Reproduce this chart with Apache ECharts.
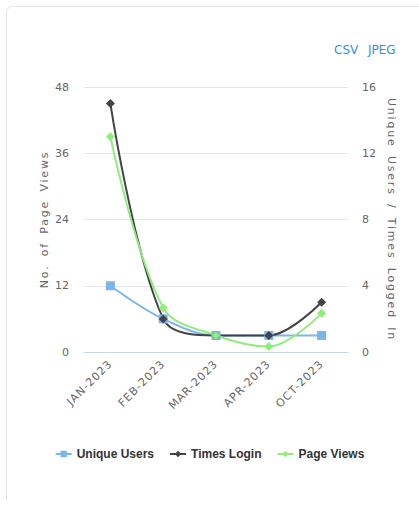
<!DOCTYPE html>
<html>
<head>
<meta charset="utf-8">
<script src="https://cdn.jsdelivr.net/npm/echarts@6/dist/echarts.min.js"></script>
<style>
html,body{margin:0;padding:0;background:#fff;}
#frame{position:absolute;left:6px;top:6px;width:420px;height:494px;border-top:1px solid #e3e3e3;border-left:1px solid #e3e3e3;border-top-left-radius:6px;box-sizing:border-box;}
#chart{position:absolute;left:0;top:0;width:419px;height:506px;}
</style>
</head>
<body>
<div id="frame"></div>
<div id="chart"></div>
<script>
var categories = ['JAN-2023', 'FEB-2023', 'MAR-2023', 'APR-2023', 'OCT-2023'];
var uniqueUsers = [4, 2, 1, 1, 1];
var timesLogin = [15, 2, 1, 1, 3];
var pageViews = [39, 8, 3, 1, 7];
var leftTicks = {min: 0, max: 48, interval: 12};
var rightTicks = {min: 0, max: 16, interval: 4};

var chart = echarts.init(document.getElementById('chart'), null, {renderer: 'svg'});
var fontFam = '"DejaVu Sans", Verdana, sans-serif';
var option = {
  animation: false,
  backgroundColor: 'transparent',
  grid: {left: 84, right: 71, top: 87, bottom: 154},
  graphic: [
    {type: 'text', left: 334, top: 44, style: {text: 'CSV', fill: '#3a8ee6', font: '12px ' + fontFam}},
    {type: 'text', left: 368, top: 44, style: {text: 'JPEG', fill: '#3a8ee6', font: '12px ' + fontFam}}
  ],
  legend: {
    bottom: 41,
    left: 'center',
    itemWidth: 16,
    itemHeight: 8,
    itemGap: 15,
    textStyle: {color: '#333', fontSize: 12, fontWeight: 'bold', fontFamily: '"Liberation Sans", Arial, sans-serif'},
    data: ['Unique Users', 'Times Login', 'Page Views']
  },
  xAxis: {
    type: 'category',
    data: categories,
    boundaryGap: true,
    axisLine: {lineStyle: {color: '#ccd6eb'}},
    axisTick: {show: false},
    axisLabel: {rotate: 45, color: '#666', fontSize: 11, fontFamily: fontFam, margin: 10, interval: 0}
  },
  yAxis: [
    {
      type: 'value', min: leftTicks.min, max: leftTicks.max, interval: leftTicks.interval,
      name: 'No. of Page Views', nameLocation: 'middle', nameGap: 34, nameRotate: 90,
      nameMoveOverlap: false,
      nameTextStyle: {color: '#666', fontSize: 11, fontFamily: fontFam},
      axisLabel: {color: '#666', fontSize: 11, fontFamily: fontFam, margin: 15},
      splitLine: {lineStyle: {color: '#e6e6e6'}},
      axisLine: {show: false}, axisTick: {show: false}
    },
    {
      type: 'value', min: rightTicks.min, max: rightTicks.max, interval: rightTicks.interval,
      name: 'Unique Users / Times Logged In', nameLocation: 'middle', nameGap: 38, nameRotate: -90,
      nameMoveOverlap: false,
      nameTextStyle: {color: '#666', fontSize: 11, fontFamily: fontFam},
      axisLabel: {color: '#666', fontSize: 11, fontFamily: fontFam, margin: 14},
      splitLine: {show: false},
      axisLine: {show: false}, axisTick: {show: false}
    }
  ],
  series: [
    {
      name: 'Unique Users', type: 'line', yAxisIndex: 1, data: uniqueUsers, smooth: 0.35,
      symbol: 'rect', symbolSize: 9, showAllSymbol: true,
      itemStyle: {color: '#7cb5ec'}, lineStyle: {color: '#7cb5ec', width: 2}
    },
    {
      name: 'Times Login', type: 'line', yAxisIndex: 1, data: timesLogin, smooth: 0.35,
      symbol: 'diamond', symbolSize: 9, showAllSymbol: true,
      itemStyle: {color: '#434348'}, lineStyle: {color: '#434348', width: 2}
    },
    {
      name: 'Page Views', type: 'line', yAxisIndex: 0, data: pageViews, smooth: 0.35,
      symbol: 'diamond', symbolSize: 9, showAllSymbol: true,
      itemStyle: {color: '#90ed7d'}, lineStyle: {color: '#90ed7d', width: 2}
    }
  ]
};
chart.setOption(option);
function spaceTitles(){
  var texts = document.querySelectorAll('#chart text');
  texts.forEach(function(t){
    var c = t.textContent;
    if (c === 'No. of Page Views' || c === 'Unique Users / Times Logged In') {
      t.style.letterSpacing = '1.8px';
      t.style.wordSpacing = '3px';
    } else if (categories.indexOf(c) >= 0) {
      t.style.letterSpacing = '1px';
    }
  });
}
spaceTitles();
chart.on('finished', spaceTitles);
</script>
</body>
</html>
